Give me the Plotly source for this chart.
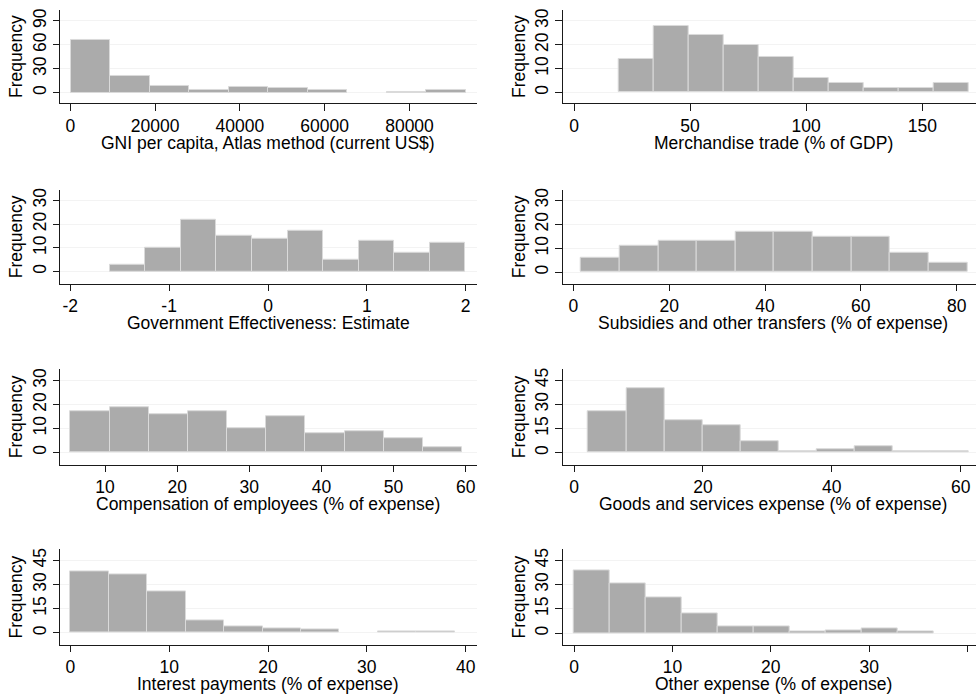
import plotly.graph_objects as go

W, H = 976, 695

# ---------------- data ----------------
gni_counts = [66, 21, 8, 4, 7, 6, 4, 0, 1, 3]
gni_start, gni_width = 150, 9310
gni_ticks = [0, 20000, 40000, 60000, 80000]

trade_counts = [14, 28, 24, 20, 15, 6, 4, 2, 2, 4]
trade_start, trade_width = 19.1, 15.09
trade_ticks = [0, 50, 100, 150]

gov_counts = [3, 10, 22, 15, 14, 17, 5, 13, 8, 12]
gov_start, gov_width = -1.60, 0.3595
gov_ticks = [-2, -1, 0, 1, 2]

subs_counts = [6, 11, 13, 13, 17, 17, 15, 15, 8, 4]
subs_start, subs_width = 1.6, 8.06
subs_ticks = [0, 20, 40, 60, 80]

comp_counts = [17, 19, 16, 17, 10, 15, 8, 9, 6, 2]
comp_start, comp_width = 5.2, 5.43
comp_ticks = [10, 20, 30, 40, 50, 60]

goods_counts = [26, 40, 20, 17, 7, 1, 2, 4, 1, 1]
goods_start, goods_width = 2.2, 5.9
goods_ticks = [0, 20, 40, 60]

interest_counts = [38, 36, 26, 8, 4, 3, 2, 0, 1, 1]
interest_start, interest_width = 0.0, 3.89
interest_ticks = [0, 10, 20, 30, 40]

other_counts = [39, 31, 22, 12, 4, 4, 1, 2, 3, 1]
other_start, other_width = 0.0, 3.65
other_ticks = [0, 10, 20, 30, 40]

titles = [
    "GNI per capita, Atlas method (current US$)",
    "Merchandise trade (% of GDP)",
    "Government Effectiveness: Estimate",
    "Subsidies and other transfers (% of expense)",
    "Compensation of employees (% of expense)",
    "Goods and services expense (% of expense)",
    "Interest payments (% of expense)",
    "Other expense (% of expense)",
]
y_ticks_row = [[0, 30, 60, 90], [0, 10, 20, 30], [0, 10, 20, 30], [0, 10, 20, 30],
               [0, 10, 20, 30], [0, 15, 30, 45], [0, 15, 30, 45], [0, 15, 30, 45]]

hists = [
    (gni_counts, gni_start, gni_width, gni_ticks),
    (trade_counts, trade_start, trade_width, trade_ticks),
    (gov_counts, gov_start, gov_width, gov_ticks),
    (subs_counts, subs_start, subs_width, subs_ticks),
    (comp_counts, comp_start, comp_width, comp_ticks),
    (goods_counts, goods_start, goods_width, goods_ticks),
    (interest_counts, interest_start, interest_width, interest_ticks),
    (other_counts, other_start, other_width, other_ticks),
]

# ---------------- layout geometry (pixels) ----------------
col_x = [(60.0, 476.7), (562.7, 976.0)]
row_y = [(8.0, 101.7), (188.3, 282.7), (368.3, 464.0), (549.0, 644.7)]
# x calibration: (value, pixel) pairs for each panel
x_cal = [((0, 70.3), (80000, 409.5)), ((0, 574.0), (150, 922.3)),
         ((-2, 70.3), (2, 465.7)), ((0, 573.3), (80, 956.7)),
         ((10, 105.0), (60, 465.7)), ((0, 574.0), (60, 960.7)),
         ((0, 70.3), (40, 465.7)), ((0, 574.0), (40, 967.7))]
# y calibration: zero pixel, top-tick pixel
y_cal = [(91.0, 19.0), (90.7, 19.0), (270.3, 199.0), (271.0, 199.0),
         (451.7, 379.7), (452.0, 379.3), (632.7, 560.0), (633.0, 560.0)]
title_cx = [268.3, 773.0]
title_cy = [141.5, 322.3, 503.5, 684.3]

FONT = "Liberation Sans, Arial, Helvetica, sans-serif"
FS = 17.5
AXC = "#1a1a1a"


def lin_range(v0, p0, v1, p1, d0, d1):
    s = (p1 - p0) / (v1 - v0)
    return [v0 + (d0 - p0) / s, v0 + (d1 - p0) / s]


fig = go.Figure()
annotations = []
for i, (counts, start, width, xt) in enumerate(hists):
    r, c = divmod(i, 2)
    n = "" if i == 0 else str(i + 1)
    xs, ys = [], []
    for k, cnt in enumerate(counts):
        if cnt > 0:
            xs.append(start + width * (k + 0.5))
            ys.append(cnt)
    fig.add_trace(go.Bar(
        x=xs, y=ys, width=width, xaxis="x" + n, yaxis="y" + n,
        marker=dict(color="#ababab", line=dict(color="#dadada", width=1)),
        showlegend=False, hoverinfo="skip"))

    x0p, x1p = col_x[c]
    ytop, ybot = row_y[r]
    (va, pa), (vb, pb) = x_cal[i]
    xr = lin_range(va, pa, vb, pb, x0p, x1p)
    zp, tp = y_cal[i]
    yt = y_ticks_row[i]
    yr = lin_range(0, zp, yt[-1], tp, ybot, ytop)

    common = dict(showline=True, linecolor=AXC, linewidth=1, ticks="outside",
                  ticklen=6.5, tickwidth=1, tickcolor=AXC, zeroline=False,
                  tickfont=dict(family=FONT, size=FS, color="#000"))
    fig.layout["xaxis" + n] = dict(
        domain=[x0p / W, x1p / W], range=xr, tickmode="array", tickvals=xt,
        ticktext=[str(v) for v in xt],
        anchor="y" + n, showgrid=False, **common)
    fig.layout["yaxis" + n] = dict(
        domain=[1 - ybot / H, 1 - ytop / H], range=yr, tickmode="array",
        tickvals=yt, ticktext=[str(v) for v in yt],
        anchor="x" + n, tickangle=-90, showgrid=True,
        gridcolor="#f3f3f3", gridwidth=1,
        title=dict(text="Frequency", font=dict(family=FONT, size=FS, color="#000"),
                   standoff=2),
        **common)
    annotations.append(dict(
        text=titles[i], x=title_cx[c] / W, y=1 - title_cy[r] / H,
        xref="paper", yref="paper", xanchor="center", yanchor="middle",
        showarrow=False, font=dict(family=FONT, size=FS, color="#000")))

fig.update_layout(
    width=W, height=H, margin=dict(l=0, r=0, t=0, b=0),
    paper_bgcolor="white", plot_bgcolor="white", bargap=0,
    annotations=annotations)

fig.write_html("out.html")
